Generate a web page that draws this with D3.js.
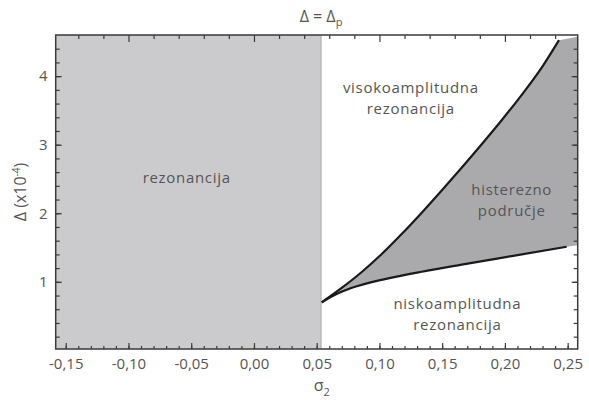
<!DOCTYPE html>
<html>
<head>
<meta charset="utf-8">
<script src="https://cdn.jsdelivr.net/npm/d3@7"></script>
<style>
  body { margin: 0; background: #fff; }
  text { font-family: "Open Sans", sans-serif; fill: #555; }
</style>
</head>
<body>
<svg id="chart" width="589" height="400"></svg>
<script>
// axis ranges and ticks
var xDomain = [-0.158, 0.258];
var yDomain = [0.02, 4.6];
var xMajor = [-0.15, -0.10, -0.05, 0.00, 0.05, 0.10, 0.15, 0.20, 0.25];
var yMajor = [1, 2, 3, 4];

// boundary of the resonance region (sigma2)
var sigmaCrit = 0.0535;

// upper branch (jump to high amplitude)
var upperSigma = [0.0540, 0.0699, 0.0859, 0.1018, 0.1177, 0.1337, 0.1496, 0.1655, 0.1815, 0.1974, 0.2134, 0.2293, 0.2431];
var upperDelta = [0.700, 0.910, 1.143, 1.405, 1.697, 2.009, 2.333, 2.665, 3.007, 3.357, 3.727, 4.124, 4.525];

// lower branch (jump to low amplitude)
var lowerSigma = [0.0540, 0.0604, 0.0667, 0.0739, 0.0819, 0.0938, 0.1098, 0.1337, 0.1655, 0.2054, 0.2492];
var lowerDelta = [0.700, 0.772, 0.831, 0.885, 0.935, 0.996, 1.062, 1.147, 1.250, 1.375, 1.511];

// hysteresis area continues to the right border
var edgeSigma = [0.258, 0.258];
var edgeDelta = [4.573, 1.535];

var margin = {top: 35, right: 11.3, bottom: 51, left: 55.7};
var width = 589, height = 400;
var svg = d3.select('#chart');

var x = d3.scaleLinear().domain(xDomain).range([margin.left, width - margin.right]);
var y = d3.scaleLinear().domain(yDomain).range([height - margin.bottom, margin.top]);

var locale = d3.formatLocale({decimal: ',', thousands: '.', grouping: [3], currency: ['', ''], minus: '-'});
var fmtX = locale.format('.2f');

svg.append('clipPath').attr('id', 'plot-clip')
  .append('rect')
  .attr('x', x.range()[0]).attr('y', y.range()[1])
  .attr('width', x.range()[1] - x.range()[0])
  .attr('height', y.range()[0] - y.range()[1]);

var plot = svg.append('g').attr('clip-path', 'url(#plot-clip)');

// resonance region
plot.append('rect')
  .attr('x', x(xDomain[0]))
  .attr('y', y(yDomain[1]))
  .attr('width', x(sigmaCrit) - x(xDomain[0]))
  .attr('height', y(yDomain[0]) - y(yDomain[1]))
  .attr('fill', '#cbcbcd');
plot.append('line')
  .attr('x1', x(sigmaCrit)).attr('x2', x(sigmaCrit))
  .attr('y1', y(yDomain[0])).attr('y2', y(yDomain[1]))
  .attr('stroke', '#a9a9ab').attr('stroke-width', 1);

// hysteresis region
var curve = d3.line()
  .x(function(d) { return x(d[0]); })
  .y(function(d) { return y(d[1]); })
  .curve(d3.curveMonotoneX);

var upperPts = upperSigma.map(function(s, i) { return [s, upperDelta[i]]; });
var lowerPts = lowerSigma.map(function(s, i) { return [s, lowerDelta[i]]; });
var edgePts = edgeSigma.map(function(s, i) { return [s, edgeDelta[i]]; });

var ring = upperPts.concat(edgePts).concat(lowerPts.slice().reverse());
plot.append('path')
  .attr('d', d3.line()
    .x(function(d) { return x(d[0]); })
    .y(function(d) { return y(d[1]); })
    .curve(d3.curveLinearClosed)(ring))
  .attr('fill', '#aaaaad');

plot.append('path')
  .attr('d', curve(upperPts))
  .attr('fill', 'none').attr('stroke', '#1a1a1a').attr('stroke-width', 2.2);
plot.append('path')
  .attr('d', curve(lowerPts))
  .attr('fill', 'none').attr('stroke', '#1a1a1a').attr('stroke-width', 2.2);

// axes (ticks point inward)
var xMinor = d3.range(-15, 26).map(function(i) { return i / 100; });
var xTop = d3.range(-7, 13).map(function(i) { return i * 0.02; });
var yMinor = d3.range(1, 23).map(function(i) { return i * 0.2; });

function styleAxis(g) {
  g.select('.domain').remove();
  g.selectAll('line').attr('stroke', '#3a3a3a').attr('stroke-width', 1.2);
  g.selectAll('text').style('font-size', '15px').attr('fill', '#555');
}

svg.append('g').attr('transform', 'translate(0,' + y.range()[0] + ')')
  .call(d3.axisBottom(x).tickValues(xMinor).tickSize(-3).tickFormat(''))
  .call(styleAxis);
svg.append('g').attr('transform', 'translate(0,' + y.range()[0] + ')')
  .call(d3.axisBottom(x).tickValues(xMajor).tickSize(-6).tickPadding(9.7).tickFormat(fmtX))
  .call(styleAxis);

svg.append('g').attr('transform', 'translate(0,' + y.range()[1] + ')')
  .call(d3.axisTop(x).tickValues(xTop).tickSize(-4).tickFormat(''))
  .call(styleAxis)
  .selectAll('.tick line')
  .attr('y2', function(d) { return Math.abs(Math.round(d * 100) % 10) === 0 ? 7 : 4; });

svg.append('g').attr('transform', 'translate(' + x.range()[0] + ',0)')
  .call(d3.axisLeft(y).tickValues(yMinor).tickSize(-4).tickFormat(''))
  .call(styleAxis);
svg.append('g').attr('transform', 'translate(' + x.range()[0] + ',0)')
  .call(d3.axisLeft(y).tickValues(yMajor).tickSize(-6).tickPadding(8).tickFormat(d3.format('d')))
  .call(styleAxis);

svg.append('g').attr('transform', 'translate(' + x.range()[1] + ',0)')
  .call(d3.axisRight(y).tickValues(yMinor).tickSize(-4).tickFormat(''))
  .call(styleAxis);
svg.append('g').attr('transform', 'translate(' + x.range()[1] + ',0)')
  .call(d3.axisRight(y).tickValues(yMajor).tickSize(-6).tickFormat(''))
  .call(styleAxis);

// frame
svg.append('rect')
  .attr('x', x.range()[0]).attr('y', y.range()[1])
  .attr('width', x.range()[1] - x.range()[0])
  .attr('height', y.range()[0] - y.range()[1])
  .attr('fill', 'none').attr('stroke', '#3a3a3a').attr('stroke-width', 1.5);

// region labels
var labelText = [['rezonancija'], ['visokoamplitudna', 'rezonancija'], ['histerezno', 'područje'], ['niskoamplitudna', 'rezonancija']];
var labelSigma = [-0.0536, 0.125, 0.2054, 0.1621];
var labelDelta = [2.444, 3.748, 2.264, 0.5975];
var lineGap = 20.6;

labelText.forEach(function(lines, k) {
  lines.forEach(function(line, j) {
    svg.append('text')
      .attr('x', x(labelSigma[k]))
      .attr('y', y(labelDelta[k]) + j * lineGap)
      .attr('text-anchor', 'middle')
      .style('font-size', '15px')
      .style('letter-spacing', '0.7px')
      .text(line);
  });
});

// titles
var title = svg.append('text')
  .attr('x', 321).attr('y', 22.3)
  .attr('text-anchor', 'middle')
  .style('font-size', '16px');
title.append('tspan').text('Δ = Δ');
title.append('tspan').attr('dy', 4).style('font-size', '11px').text('p');

var xTitle = svg.append('text')
  .attr('x', (x.range()[0] + x.range()[1]) / 2 + 5).attr('y', 391)
  .attr('text-anchor', 'middle')
  .style('font-size', '16px');
xTitle.append('tspan').text('σ');
xTitle.append('tspan').attr('dy', 5).style('font-size', '11px').text('2');

var yTitle = svg.append('text')
  .attr('transform', 'translate(26,' + ((y.range()[0] + y.range()[1]) / 2) + ') rotate(-90)')
  .attr('text-anchor', 'middle')
  .style('font-size', '16px');
yTitle.append('tspan').text('Δ (x10');
yTitle.append('tspan').attr('dy', -6).style('font-size', '10px').text('-4');
yTitle.append('tspan').attr('dy', 6).text(')');
</script>
</body>
</html>
